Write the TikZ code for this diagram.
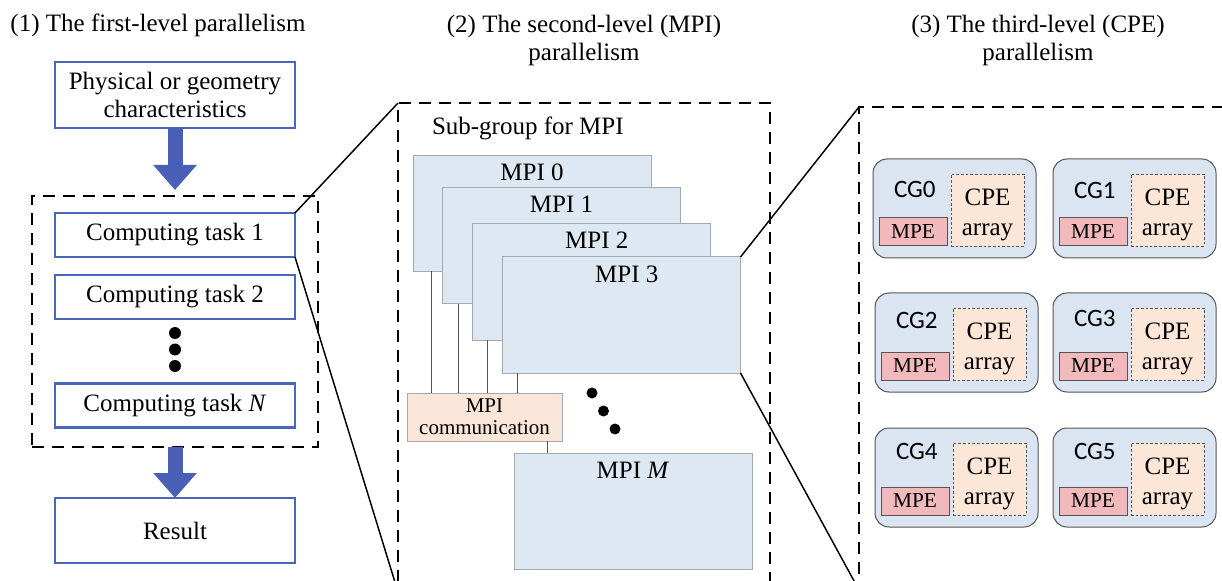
\documentclass[tikz,border=0pt]{standalone}
\usepackage{fontspec}
\setmainfont{Liberation Serif}
\newfontfamily\cgfont{Carlito}
\usetikzlibrary{arrows.meta}
\definecolor{boxblue}{HTML}{4A66BB}
\definecolor{arrblue}{HTML}{4A5FB6}
\definecolor{mpifill}{HTML}{DEE8F2}
\definecolor{mpiline}{HTML}{A3A9AF}
\definecolor{commfill}{HTML}{FAE5D9}
\definecolor{cgfill}{HTML}{DAE5F1}
\definecolor{cgline}{HTML}{555555}
\definecolor{mpefill}{HTML}{F2B9BC}
\definecolor{cpefill}{HTML}{FCE6D7}
\begin{document}
\begin{tikzpicture}[x=0.75pt,y=-0.75pt,
  every node/.style={inner sep=0pt, outer sep=0pt},
  bigtext/.style={font=\fontsize{18.75}{21}\selectfont},
  bluebox/.style={draw=boxblue, line width=1.8pt, fill=white, minimum width=180pt, bigtext, align=center},
  bigarrow/.style={draw=arrblue, line width=11.25pt, -{Triangle[width=31.5pt,length=18.75pt]}},
  dashbox/.style={draw, line width=1.5pt, dash pattern=on 9pt off 6pt},
  zoomline/.style={line width=1.1pt},
  mpibox/.style={draw=mpiline, fill=mpifill, line width=0.75pt, minimum width=178.5pt, minimum height=87pt},
  commbox/.style={draw=mpiline, fill=commfill, line width=0.75pt, minimum width=116.25pt, minimum height=36pt, align=center, font=\fontsize{15.75}{16.5}\selectfont},
  conn/.style={draw=cgline, line width=0.75pt},
  blackdot/.style={circle, fill=black},
  cgbox/.style={draw=cgline, fill=cgfill, line width=0.75pt, rounded corners=10.5pt, minimum width=122.25pt, minimum height=74.25pt},
  mpebox/.style={draw=cgline, fill=mpefill, line width=0.75pt, minimum width=51pt, minimum height=21pt, font=\fontsize{16}{18}\selectfont},
  cpebox/.style={draw=cgline, fill=cpefill, line width=0.6pt, dash pattern=on 2pt off 1.5pt, minimum width=54.75pt, minimum height=54pt},
  cpetext/.style={align=center, font=\fontsize{18.75}{22.5}\selectfont},
  cglabel/.style={anchor=west, font=\cgfont\fontsize{18.75}{21}\selectfont}
]
\useasboundingbox (0,0) rectangle (1222,581);
\clip (0,0) rectangle (1222,581);

% ---- titles
\node[bigtext, anchor=base] (title1) at (158,32) {(1) The first-level parallelism};
\node[bigtext, align=center] (title2) at (584,40) {(2) The second-level (MPI)\\parallelism};
\node[bigtext, align=center] (title3) at (1038,40) {(3) The third-level (CPE)\\parallelism};

% ---- first level
\node[dashbox, minimum width=214.5pt, minimum height=188.25pt] (db1) at (175,321.5) {};
\node[bluebox, minimum height=49.5pt] (phys) at (175,95) {Physical or geometry\\characteristics};
\node[bluebox, minimum height=33pt] (t1) at (175,235) {Computing task 1};
\node[bluebox, minimum height=33pt] (t2) at (175,297) {Computing task 2};
\node[bluebox, minimum height=33pt] (tN) at (175,405.5) {Computing task \textit{N}};
\node[bluebox, minimum height=48.75pt] (res) at (175,530.5) {Result};
\node[blackdot, minimum size=9pt] (d1) at (175,333) {};
\node[blackdot, minimum size=9pt] (d2) at (175,349.5) {};
\node[blackdot, minimum size=9pt] (d3) at (175,366) {};
\draw[bigarrow] (phys.south) -- ([yshift=4.5pt]db1.north);
\draw[bigarrow] (db1.south) -- (res.north);

% ---- second level
\node[dashbox, minimum width=279pt, minimum height=366.75pt] (db2) at (584,347.5) {};
\node[bigtext, anchor=base west] (sub) at (432,135) {Sub-group for MPI};
\node[mpibox] (m0) at (532,213.5) {};
\node[bigtext, anchor=base] (l0) at ([yshift=-18.75pt]m0.north) {MPI 0};
\node[mpibox] (m1) at (561.5,246) {};
\node[bigtext, anchor=base] (l1) at ([yshift=-18.75pt]m1.north) {MPI 1};
\node[mpibox] (m2) at (591.5,282) {};
\node[bigtext, anchor=base] (l2) at ([yshift=-18.75pt,xshift=4pt]m2.north) {MPI 2};
\node[mpibox] (m3) at (621.5,315) {};
\node[bigtext, anchor=base] (l3) at ([yshift=-18.75pt,xshift=4pt]m3.north) {MPI 3};
\node[commbox] (comm) at (484.5,417) {MPI\\communication};
\node[mpibox] (mM) at (633,511) {};
\node[bigtext, anchor=base] (lM) at ([yshift=-18.75pt]mM.north) {MPI \textit{M}};
\draw[conn] ([xshift=13.5pt]m0.south west) -- ([xshift=13.5pt]m0.south west |- comm.north);
\draw[conn] ([xshift=12pt]m1.south west) -- ([xshift=12pt]m1.south west |- comm.north);
\draw[conn] ([xshift=11.25pt]m2.south west) -- ([xshift=11.25pt]m2.south west |- comm.north);
\draw[conn] ([xshift=11.25pt]m3.south west) -- ([xshift=11.25pt]m3.south west |- comm.north);
\draw[conn] ([xshift=-11.25pt]comm.south east) -- ([xshift=-11.25pt]comm.south east |- mM.north);
\node[blackdot, minimum size=8.25pt] (e1) at (592,393) {};
\node[blackdot, minimum size=8.25pt] (e2) at (603.5,411) {};
\node[blackdot, minimum size=8.25pt] (e3) at (615,429) {};

% ---- third level
\node[dashbox, minimum width=293.25pt, minimum height=362.25pt] (db3) at (1054.5,348.5) {};
\foreach \i/\x/\y/\o in {0/873/159/30.5, 1/1053/159/31, 2/875/293/27.5, 3/1053/293/25.5, 4/875/428/23.5, 5/1053/428/23.5}{
  \node[cgbox] (cg\i) at (\x+81.5,\y+49.5) {};
  \node[cpebox] (cpe\i) at (\x+114.5,\y+51) {};
  \node[cpetext] (cpet\i) at (\x+114.5,\y+55.5) {CPE\\array};
  \node[mpebox] (mpe\i) at (\x+40,\y+73) {MPE};
  \node[cglabel] (cgl\i) at (\x+21,\y+\o) {CG\i};
}

% ---- zoom lines
\draw[zoomline] (t1.north east) -- (db2.north west);
\draw[zoomline] (t1.south east) -- (db2.south west);
\draw[zoomline] (m3.north east) -- (db3.north west);
\draw[zoomline] (m3.south east) -- (db3.south west);
\end{tikzpicture}
\end{document}
